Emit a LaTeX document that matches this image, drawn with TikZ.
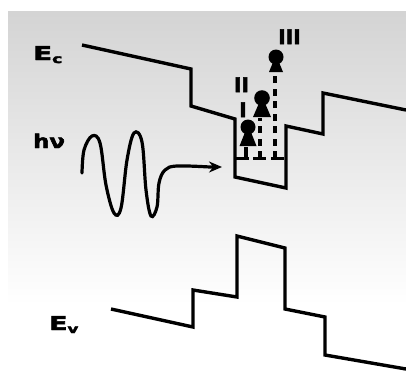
\documentclass[tikz,border=0pt]{standalone}
\usepackage{fontspec}
\setmainfont{DejaVu Sans}
\newfontfamily\heavy[BoldFeatures={FakeBold=2.5}]{DejaVu Sans}
\usetikzlibrary{arrows.meta}
\tikzset{
  band/.style={line width=3.4pt, line join=miter, line cap=butt},
  lab/.style={inner sep=0pt, font=\fontsize{19}{19}\heavy\bfseries},
  roman/.style={inner sep=0pt, font=\fontsize{20}{20}\heavy\bfseries, anchor=base},
  dashline/.style={line width=3.4pt, dash pattern=on 7pt off 5.5pt},
  sub/.style={line width=3pt}
}
\begin{document}
\begin{tikzpicture}[x=1pt,y=-1pt]
\useasboundingbox (0,0) rectangle (406,370);
% background
\fill[white] (0,0) rectangle (406,370);
\shade[top color=black!17, bottom color=white] (8,11) rectangle (406,305);
\fill[white] (8,304) rectangle (406,350);
% conduction band
\coordinate (c0) at (82,45);
\draw[band] (c0) -- (191,69) -- (191,106) -- (235,119) -- (235,177) -- (286,188) -- (286,126) -- (323,134) -- (323,93) -- (406,110);
% valence band
\coordinate (v0) at (111,309);
\draw[band] (v0) -- (193,327) -- (193,290) -- (237,297) -- (237,236) -- (285,248) -- (285,309) -- (325,317) -- (325,355) -- (406,369);
% ground level in well
\draw[sub] (235,158) -- (249,158);
\draw[sub] (253,158) -- (266,158);
\draw[sub] (271,158) -- (284,158);
% dashed transitions
\coordinate (b1) at (246,158);
\coordinate (t1) at (246,147);
\coordinate (b2) at (260,158);
\coordinate (t2) at (260,118);
\coordinate (b3) at (275,158);
\coordinate (t3) at (275,70);
\draw[line width=3.4pt] (b1) -- (t1);
\draw[dashline] (b2) -- (t2);
\draw[dashline] (b3) -- (t3);
% electrons
\fill (248,127) circle (7.5);
\fill (245.5,131) -- (250.5,131) -- (256.5,146) -- (239.5,146) -- cycle;
\fill (262,98) circle (7.8);
\fill (259.5,102) -- (264.5,102) -- (271,117) -- (253,117) -- cycle;
\fill (276,57) circle (7.5);
\fill (273.5,61) -- (278.5,61) -- (283,72) -- (269,72) -- cycle;
% labels
\node[roman] (r1) at (243,117) {I};
\node[roman] (r2) at (241.5,92) {II};
\node[roman] (r3) at (289.5,44) {III};
\node[lab, anchor=base west, xscale=1.45] (ec) at (33,60) {E\raisebox{-3pt}{\fontsize{12}{12}\selectfont c}};
\node[lab, anchor=base west, xscale=1.2] (hv) at (33,148) {hν};
\node[lab, anchor=base west, xscale=1.4] (ev) at (49,330) {E\raisebox{-3pt}{\fontsize{12}{12}\selectfont v}};
% photon
\coordinate (tip) at (222,167);
\draw[line width=3.2pt, line cap=round, -{Stealth[length=13pt,width=11pt]}]
  plot[smooth, tension=0.6] coordinates {(82,173) (84,150) (92,136) (100,143) (106,185) (114,213) (121,208) (127,160) (134,133) (142,142) (146,190) (151,216) (157,207) (159,183) (165,170) (177,166) (210,167)} -- (tip);
\end{tikzpicture}
\end{document}
